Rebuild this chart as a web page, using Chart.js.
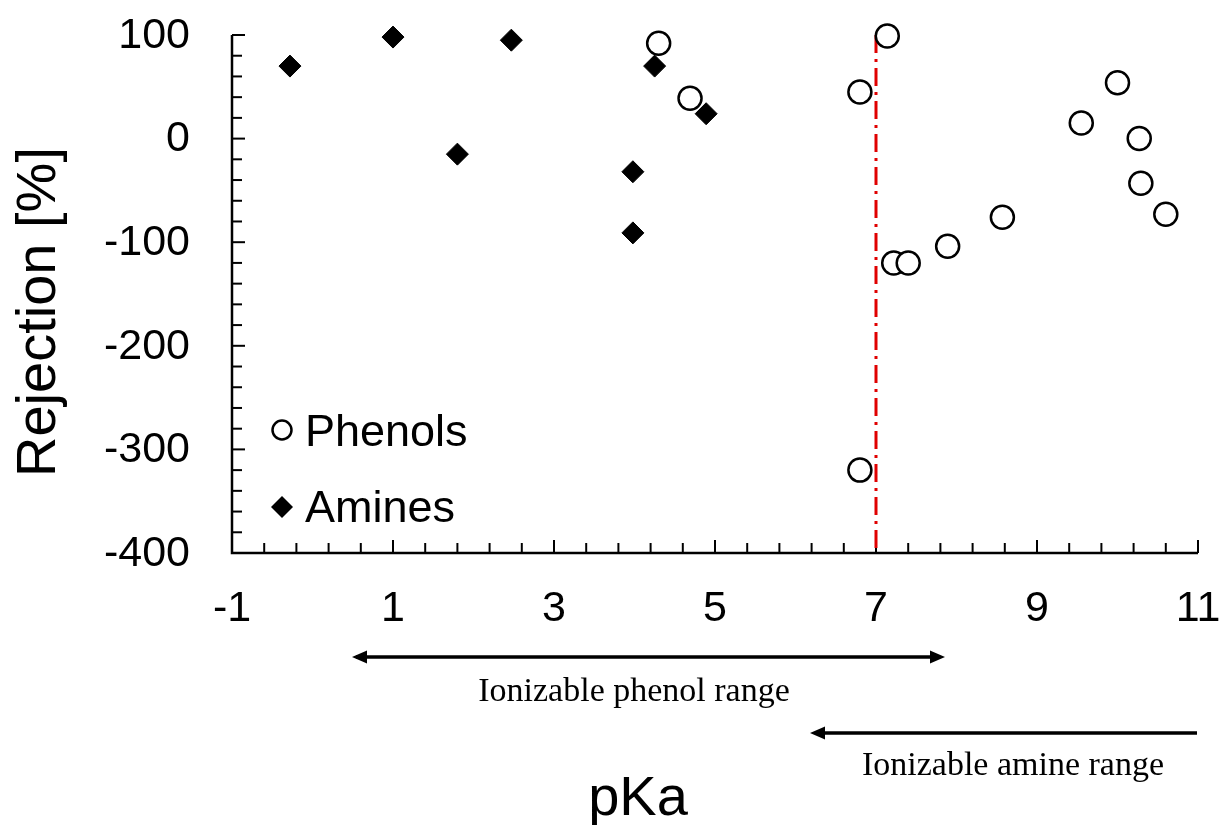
<!DOCTYPE html>
<html><head><meta charset="utf-8">
<script src="https://cdn.jsdelivr.net/npm/chart.js@4"></script>
<style>body{margin:0;background:#fff}canvas{display:block}</style>
</head><body>
<canvas id="c" width="1225" height="825"></canvas>
<script>
const phenolX = [4.3, 4.69, 6.8, 7.14, 6.8, 7.22, 7.4, 7.89, 8.57, 9.55, 10.0, 10.27, 10.29, 10.6];
const phenolY = [92, 39, 45, 99, -320, -120, -120, -104, -76, 15, 54, 0, -43, -73];
const amineX = [-0.28, 1.0, 1.8, 2.47, 3.98, 3.98, 4.25, 4.89];
const amineY = [70, 98, -15, 95, -32, -91, 70, 24];
const xTicks = [-1, 1, 3, 5, 7, 9, 11];
const yTicks = [100, 0, -100, -200, -300, -400];
const cutoff = 7;

const toPts = (xs, ys) => xs.map((x, i) => ({ x: x, y: ys[i] }));
const font = 'Liberation Sans, Arial, sans-serif';

// ticks, labels, axes, titles, legend, cutoff line, arrows
const decor = {
  id: 'decor',
  beforeDatasetsDraw(chart) {
    const c = chart.ctx, xs = chart.scales.x, ys = chart.scales.y;
    const a = chart.chartArea;
    c.save();
    c.strokeStyle = '#000'; c.lineWidth = 2.5;
    c.beginPath();
    c.moveTo(a.left, a.top); c.lineTo(a.left, a.bottom); c.lineTo(a.right, a.bottom);
    c.stroke();
    c.lineWidth = 2;
    for (let v = -1; v <= 11.001; v += 0.4) {
      const px = xs.getPixelForValue(v);
      const major = Math.abs((v + 1) / 2 - Math.round((v + 1) / 2)) < 0.01;
      c.beginPath(); c.moveTo(px, a.bottom); c.lineTo(px, a.bottom - (major ? 13 : 10)); c.stroke();
    }
    for (let v = -400; v <= 100; v += 20) {
      const py = ys.getPixelForValue(v);
      c.beginPath(); c.moveTo(a.left, py); c.lineTo(a.left + (v % 100 === 0 ? 13 : 10), py); c.stroke();
    }
    // tick labels
    c.fillStyle = '#000';
    c.font = '43px ' + font; c.textBaseline = 'middle';
    c.textAlign = 'center';
    xTicks.forEach(v => c.fillText(String(v), xs.getPixelForValue(v), a.bottom + 56));
    c.textAlign = 'right';
    yTicks.forEach(v => c.fillText(String(v), a.left - 42, ys.getPixelForValue(v) + 1));
    // cutoff line
    c.strokeStyle = '#e00000'; c.lineWidth = 3; c.setLineDash([18, 6, 3, 6]);
    const cx = xs.getPixelForValue(cutoff);
    c.beginPath(); c.moveTo(cx, ys.getPixelForValue(100)); c.lineTo(cx, a.bottom); c.stroke();
    c.setLineDash([]);
    // titles
    c.font = '56px ' + font; c.textAlign = 'center';
    c.fillText('pKa', 638, 800);
    c.save(); c.translate(40, 312); c.rotate(-Math.PI / 2); c.fillText('Rejection [%]', 0, 0); c.restore();
    // legend
    c.font = '45px ' + font; c.textAlign = 'left';
    c.fillText('Phenols', 305, 434);
    c.fillText('Amines', 305, 510);
    c.strokeStyle = '#000'; c.lineWidth = 2.5;
    c.beginPath(); c.arc(282, 430, 9.5, 0, Math.PI * 2); c.stroke();
    c.beginPath(); c.moveTo(282, 496); c.lineTo(293, 507); c.lineTo(282, 518); c.lineTo(271, 507); c.closePath(); c.fill();
    // arrows
    const head = (x, y, dir) => {
      c.beginPath(); c.moveTo(x, y); c.lineTo(x - dir * 15, y - 6.5); c.lineTo(x - dir * 15, y + 6.5); c.closePath(); c.fill();
    };
    c.lineWidth = 3.5;
    c.beginPath(); c.moveTo(356, 657); c.lineTo(940, 657); c.stroke();
    head(352, 657, -1); head(945, 657, 1);
    c.beginPath(); c.moveTo(818, 733); c.lineTo(1197, 733); c.stroke();
    head(810, 733, -1);
    c.font = '34px Liberation Serif, Times New Roman, serif'; c.textAlign = 'center';
    c.fillText('Ionizable phenol range', 634, 692);
    c.fillText('Ionizable amine range', 1013, 766);
    c.restore();
  }
};

new Chart(document.getElementById('c'), {
  type: 'scatter',
  data: {
    datasets: [
      { label: 'Phenols', data: toPts(phenolX, phenolY), pointStyle: 'circle', pointRadius: 11.5,
        pointBackgroundColor: '#fff', pointBorderColor: '#000', pointBorderWidth: 2.5, clip: false },
      { label: 'Amines', data: toPts(amineX, amineY), pointStyle: 'rectRot', pointRadius: 11,
        pointBackgroundColor: '#000', pointBorderColor: '#000', pointBorderWidth: 1, clip: false }
    ]
  },
  options: {
    responsive: false, animation: false,
    layout: { padding: { left: 0, top: 35, right: 27, bottom: 272 } },
    plugins: { legend: { display: false }, tooltip: { enabled: false } },
    scales: {
      x: {
        type: 'linear', min: -1, max: 11,
        afterFit: s => { s.height = 0; },
        grid: { display: false }, border: { display: false },
        ticks: { display: false }
      },
      y: {
        min: -400, max: 100,
        afterFit: s => { s.width = 232; },
        grid: { display: false }, border: { display: false },
        ticks: { display: false }
      }
    }
  },
  plugins: [decor]
});
</script>
</body></html>
